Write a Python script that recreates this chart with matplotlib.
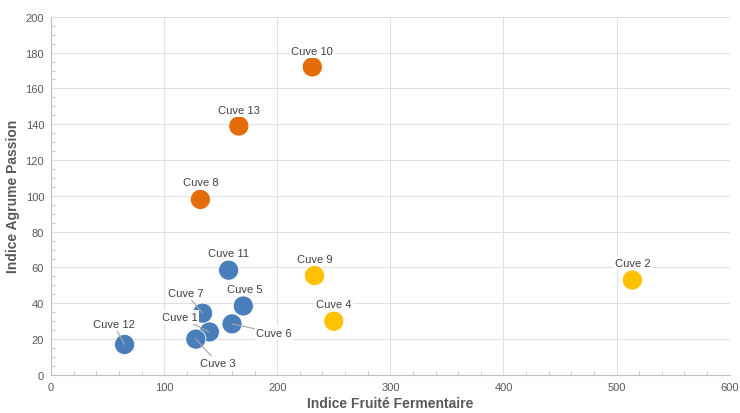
import matplotlib.pyplot as plt
from matplotlib.ticker import MultipleLocator

plt.rcParams['font.family'] = ['Liberation Sans', 'DejaVu Sans']

names = ["Cuve 1", "Cuve 2", "Cuve 3", "Cuve 4", "Cuve 5", "Cuve 6", "Cuve 7",
         "Cuve 8", "Cuve 9", "Cuve 10", "Cuve 11", "Cuve 12", "Cuve 13"]
fruite = [140, 514, 128, 250, 170, 160, 134, 132, 233, 231, 157, 65, 166]
agrume = [24, 53, 20, 30, 38.5, 28.5, 34.5, 98, 55.5, 172, 58.5, 17, 139]
groupe = ["b", "y", "b", "y", "b", "b", "b", "o", "y", "o", "b", "b", "o"]

colors = {"b": "#4a7ebb", "o": "#e46c0a", "y": "#ffc000"}

# label offsets in pixels (dx, dy), leader line if far
offsets = {
    "Cuve 1": (-30, 15), "Cuve 2": (0, 17), "Cuve 3": (22, -24),
    "Cuve 4": (0, 17), "Cuve 5": (1, 17), "Cuve 6": (42, -9),
    "Cuve 7": (-17, 20), "Cuve 8": (0, 17), "Cuve 9": (0, 17),
    "Cuve 10": (0, 16), "Cuve 11": (0, 17), "Cuve 12": (-11, 20),
    "Cuve 13": (0, 16),
}
leader = ["Cuve 1", "Cuve 3", "Cuve 6", "Cuve 7", "Cuve 12"]

fig = plt.figure(figsize=(7.4, 4.14), dpi=100)
ax = fig.add_axes([0.069, 0.092, 0.917, 0.865])

ax.scatter(fruite, agrume, s=210, c=[colors[g] for g in groupe],
           edgecolors="white", linewidths=0.6, zorder=2)

for n, x, y in zip(names, fruite, agrume):
    dx, dy = offsets[n]
    arrow = None
    if n in leader:
        arrow = dict(arrowstyle="-", color="#a6a6a6", lw=0.8,
                     shrinkA=0, shrinkB=0)
    ax.annotate(n, (x, y), xytext=(dx, dy), textcoords="offset pixels",
                ha="center", va="center", fontsize=8, color="#404040",
                bbox=dict(boxstyle="square,pad=0.15", fc="white", ec="none"),
                arrowprops=arrow, zorder=3)

ax.set_xlim(0, 600)
ax.set_ylim(0, 200)
ax.xaxis.set_major_locator(MultipleLocator(100))
ax.xaxis.set_minor_locator(MultipleLocator(20))
ax.yaxis.set_major_locator(MultipleLocator(20))
ax.yaxis.set_minor_locator(MultipleLocator(5))

ax.grid(True, which="major", color="#e0e0e0", lw=0.8, zorder=0)
ax.set_axisbelow(True)
for s in ["top", "right"]:
    ax.spines[s].set_visible(False)
for s in ["left", "bottom"]:
    ax.spines[s].set_color("#bfbfbf")
ax.tick_params(which="major", length=0, labelsize=8, labelcolor="#595959", pad=5)
ax.tick_params(which="minor", direction="in", length=3, color="#bfbfbf")

ax.set_xlabel("Indice Fruité Fermentaire", fontsize=10, fontweight="bold",
              color="#595959", va="bottom")
ax.xaxis.set_label_coords(0.5, -0.098)
ax.set_ylabel("Indice Agrume Passion", fontsize=10, fontweight="bold",
              color="#595959", labelpad=4)

fig.savefig("out.png", dpi=100)
